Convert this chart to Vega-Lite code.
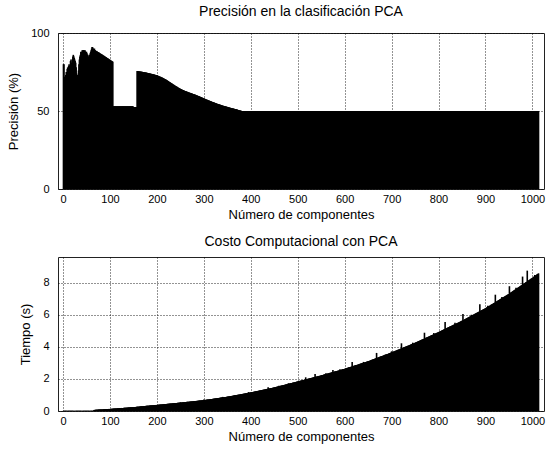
{
"$schema":"https://vega.github.io/schema/vega-lite/v6.json",
"usermeta":{"embedOptions":{"actions":false}},
"background":"white",
"padding":{"left":7,"top":4,"right":0,"bottom":2},
"spacing":12,
"data":{"values":[
{"n":1,"p":80,"t":0.01},{"n":2,"p":80,"t":0.01},{"n":3,"p":72,"t":0.01},{"n":4,"p":67,"t":0.01},{"n":5,"p":70,"t":0.01},{"n":6,"p":73,"t":0.01},{"n":7,"p":75,"t":0.01},{"n":8,"p":74,"t":0.01},{"n":9,"p":77,"t":0.01},{"n":10,"p":78,"t":0.01},
{"n":11,"p":76,"t":0.01},{"n":12,"p":79,"t":0.01},{"n":13,"p":80,"t":0.01},{"n":14,"p":79,"t":0.01},{"n":15,"p":78,"t":0.01},{"n":16,"p":82,"t":0.01},{"n":17,"p":83,"t":0.01},{"n":18,"p":81,"t":0.01},{"n":19,"p":80,"t":0.01},{"n":20,"p":83,"t":0.01},
{"n":21,"p":85,"t":0.01},{"n":22,"p":86,"t":0.01},{"n":23,"p":85,"t":0.01},{"n":24,"p":84,"t":0.01},{"n":25,"p":83,"t":0.01},{"n":26,"p":82,"t":0.01},{"n":27,"p":81,"t":0.01},{"n":28,"p":78,"t":0.01},{"n":29,"p":74,"t":0.01},{"n":30,"p":73,"t":0.01},
{"n":31,"p":72,"t":0.01},{"n":32,"p":73,"t":0.01},{"n":33,"p":76,"t":0.01},{"n":34,"p":80,"t":0.01},{"n":35,"p":83,"t":0.01},{"n":36,"p":85,"t":0.01},{"n":37,"p":86,"t":0.01},{"n":38,"p":88,"t":0.01},{"n":39,"p":87,"t":0.01},{"n":40,"p":88,"t":0.01},
{"n":41,"p":89,"t":0.01},{"n":42,"p":88,"t":0.01},{"n":43,"p":89,"t":0.01},{"n":44,"p":89,"t":0.01},{"n":45,"p":89,"t":0.01},{"n":46,"p":88,"t":0.01},{"n":47,"p":89,"t":0.01},{"n":48,"p":88,"t":0.01},{"n":49,"p":87,"t":0.01},{"n":50,"p":88,"t":0.01},
{"n":51,"p":87,"t":0.01},{"n":52,"p":86,"t":0.01},{"n":53,"p":86,"t":0.01},{"n":54,"p":85,"t":0.01},{"n":55,"p":84,"t":0.01},{"n":56,"p":85,"t":0.01},{"n":57,"p":86,"t":0.01},{"n":58,"p":87,"t":0.01},{"n":59,"p":88,"t":0.01},{"n":60,"p":89,"t":0.01},
{"n":61,"p":90,"t":0.01},{"n":62,"p":91,"t":0.01},{"n":63,"p":91,"t":0.01},{"n":64,"p":90,"t":0.01},{"n":65,"p":90,"t":0.01},{"n":66,"p":89,"t":0.07},{"n":67,"p":90,"t":0.07},{"n":68,"p":89,"t":0.07},{"n":69,"p":89,"t":0.08},{"n":70,"p":88.5,"t":0.08},
{"n":71,"p":88.3,"t":0.08},{"n":72,"p":88.5,"t":0.08},{"n":73,"p":88,"t":0.08},{"n":74,"p":87.8,"t":0.08},{"n":75,"p":87.6,"t":0.09},{"n":76,"p":87.7,"t":0.09},{"n":77,"p":87.3,"t":0.09},{"n":78,"p":87.1,"t":0.09},{"n":79,"p":86.9,"t":0.09},{"n":80,"p":86.8,"t":0.1},
{"n":81,"p":86.6,"t":0.1},{"n":82,"p":86.4,"t":0.1},{"n":83,"p":86.2,"t":0.1},{"n":84,"p":86,"t":0.1},{"n":85,"p":85.8,"t":0.1},{"n":86,"p":85.6,"t":0.11},{"n":87,"p":85.4,"t":0.11},{"n":88,"p":85.2,"t":0.11},{"n":89,"p":85,"t":0.11},{"n":90,"p":84.8,"t":0.11},
{"n":91,"p":84.6,"t":0.12},{"n":92,"p":84.4,"t":0.12},{"n":93,"p":84.2,"t":0.12},{"n":94,"p":84,"t":0.12},{"n":95,"p":83.8,"t":0.12},{"n":96,"p":83.6,"t":0.12},{"n":97,"p":83.4,"t":0.13},{"n":98,"p":83.2,"t":0.13},{"n":99,"p":83,"t":0.13},{"n":100,"p":82.8,"t":0.13},
{"n":101,"p":82.6,"t":0.13},{"n":102,"p":82.4,"t":0.13},{"n":103,"p":82.2,"t":0.14},{"n":104,"p":82,"t":0.14},{"n":105,"p":81.8,"t":0.14},{"n":106,"p":81.6,"t":0.14},{"n":107,"p":53,"t":0.15},{"n":108,"p":53,"t":0.15},{"n":109,"p":53,"t":0.15},{"n":110,"p":53,"t":0.15},
{"n":111,"p":53,"t":0.15},{"n":112,"p":53,"t":0.16},{"n":113,"p":53,"t":0.16},{"n":114,"p":53,"t":0.16},{"n":115,"p":53,"t":0.16},{"n":116,"p":53,"t":0.17},{"n":117,"p":53,"t":0.17},{"n":118,"p":53,"t":0.17},{"n":119,"p":53,"t":0.17},{"n":120,"p":53,"t":0.17},
{"n":121,"p":53,"t":0.18},{"n":122,"p":53,"t":0.18},{"n":123,"p":53,"t":0.18},{"n":124,"p":53,"t":0.18},{"n":125,"p":53,"t":0.19},{"n":126,"p":53,"t":0.19},{"n":127,"p":53,"t":0.19},{"n":128,"p":53,"t":0.19},{"n":129,"p":53,"t":0.19},{"n":130,"p":53,"t":0.2},
{"n":131,"p":53,"t":0.2},{"n":132,"p":53,"t":0.2},{"n":133,"p":53,"t":0.2},{"n":134,"p":53,"t":0.21},{"n":135,"p":53,"t":0.21},{"n":136,"p":53,"t":0.21},{"n":137,"p":53,"t":0.21},{"n":138,"p":53,"t":0.21},{"n":139,"p":53,"t":0.22},{"n":140,"p":53,"t":0.22},
{"n":141,"p":53,"t":0.22},{"n":142,"p":53,"t":0.22},{"n":143,"p":53,"t":0.23},{"n":144,"p":53,"t":0.23},{"n":145,"p":53,"t":0.23},{"n":146,"p":53,"t":0.23},{"n":147,"p":53,"t":0.23},{"n":148,"p":53,"t":0.24},{"n":149,"p":53,"t":0.24},{"n":150,"p":52.5,"t":0.24},
{"n":151,"p":52.5,"t":0.24},{"n":152,"p":52.5,"t":0.25},{"n":153,"p":52.5,"t":0.25},{"n":154,"p":52.5,"t":0.25},{"n":155,"p":52.5,"t":0.25},{"n":156,"p":52.5,"t":0.26},{"n":157,"p":52.5,"t":0.26},{"n":158,"p":75.6,"t":0.26},{"n":159,"p":75.6,"t":0.27},{"n":160,"p":75.5,"t":0.27},
{"n":161,"p":75.5,"t":0.27},{"n":162,"p":75.4,"t":0.27},{"n":163,"p":75.4,"t":0.28},{"n":164,"p":75.3,"t":0.28},{"n":165,"p":75.3,"t":0.28},{"n":166,"p":75.2,"t":0.29},{"n":167,"p":75.2,"t":0.29},{"n":168,"p":75.1,"t":0.29},{"n":169,"p":75.1,"t":0.29},{"n":170,"p":75,"t":0.3},
{"n":171,"p":74.9,"t":0.3},{"n":172,"p":74.9,"t":0.3},{"n":173,"p":74.8,"t":0.31},{"n":174,"p":74.8,"t":0.31},{"n":175,"p":74.7,"t":0.31},{"n":176,"p":74.7,"t":0.31},{"n":177,"p":74.6,"t":0.32},{"n":178,"p":74.5,"t":0.32},{"n":179,"p":74.5,"t":0.32},{"n":180,"p":74.4,"t":0.33},
{"n":181,"p":74.3,"t":0.33},{"n":182,"p":74.3,"t":0.33},{"n":183,"p":74.2,"t":0.33},{"n":184,"p":74.1,"t":0.34},{"n":185,"p":74.1,"t":0.34},{"n":186,"p":74,"t":0.34},{"n":187,"p":73.9,"t":0.35},{"n":188,"p":73.8,"t":0.35},{"n":189,"p":73.8,"t":0.35},{"n":190,"p":73.7,"t":0.35},
{"n":191,"p":73.6,"t":0.36},{"n":192,"p":73.5,"t":0.36},{"n":193,"p":73.5,"t":0.36},{"n":194,"p":73.4,"t":0.36},{"n":195,"p":73.3,"t":0.37},{"n":196,"p":73.2,"t":0.37},{"n":197,"p":73.1,"t":0.37},{"n":198,"p":73.1,"t":0.38},{"n":199,"p":73,"t":0.38},{"n":200,"p":72.9,"t":0.38},
{"n":201,"p":72.8,"t":0.38},{"n":202,"p":72.6,"t":0.39},{"n":203,"p":72.5,"t":0.39},{"n":204,"p":72.4,"t":0.39},{"n":205,"p":72.2,"t":0.39},{"n":206,"p":72.1,"t":0.4},{"n":207,"p":72,"t":0.4},{"n":208,"p":71.9,"t":0.4},{"n":209,"p":71.7,"t":0.41},{"n":210,"p":71.6,"t":0.41},
{"n":211,"p":71.4,"t":0.41},{"n":212,"p":71.3,"t":0.41},{"n":213,"p":71.1,"t":0.42},{"n":214,"p":71,"t":0.42},{"n":215,"p":70.8,"t":0.42},{"n":216,"p":70.6,"t":0.43},{"n":217,"p":70.5,"t":0.43},{"n":218,"p":70.3,"t":0.43},{"n":219,"p":70.2,"t":0.43},{"n":220,"p":70,"t":0.44},
{"n":221,"p":69.8,"t":0.44},{"n":222,"p":69.6,"t":0.44},{"n":223,"p":69.4,"t":0.45},{"n":224,"p":69.2,"t":0.45},{"n":225,"p":69,"t":0.45},{"n":226,"p":68.8,"t":0.45},{"n":227,"p":68.6,"t":0.46},{"n":228,"p":68.4,"t":0.46},{"n":229,"p":68.2,"t":0.46},{"n":230,"p":68,"t":0.47},
{"n":231,"p":67.8,"t":0.47},{"n":232,"p":67.6,"t":0.47},{"n":233,"p":67.4,"t":0.47},{"n":234,"p":67.2,"t":0.48},{"n":235,"p":67,"t":0.48},{"n":236,"p":66.8,"t":0.48},{"n":237,"p":66.6,"t":0.49},{"n":238,"p":66.4,"t":0.49},{"n":239,"p":66.2,"t":0.49},{"n":240,"p":66,"t":0.49},
{"n":241,"p":65.8,"t":0.5},{"n":242,"p":65.6,"t":0.5},{"n":243,"p":65.5,"t":0.5},{"n":244,"p":65.3,"t":0.51},{"n":245,"p":65.1,"t":0.51},{"n":246,"p":64.9,"t":0.51},{"n":247,"p":64.7,"t":0.51},{"n":248,"p":64.6,"t":0.52},{"n":249,"p":64.4,"t":0.52},{"n":250,"p":64.2,"t":0.55},
{"n":251,"p":64.1,"t":0.52},{"n":252,"p":63.9,"t":0.53},{"n":253,"p":63.8,"t":0.53},{"n":254,"p":63.6,"t":0.53},{"n":255,"p":63.5,"t":0.54},{"n":256,"p":63.4,"t":0.54},{"n":257,"p":63.2,"t":0.54},{"n":258,"p":63.1,"t":0.55},{"n":259,"p":62.9,"t":0.55},{"n":260,"p":62.8,"t":0.55},
{"n":261,"p":62.7,"t":0.56},{"n":262,"p":62.6,"t":0.56},{"n":263,"p":62.5,"t":0.56},{"n":264,"p":62.4,"t":0.57},{"n":265,"p":62.3,"t":0.57},{"n":266,"p":62.1,"t":0.57},{"n":267,"p":62,"t":0.57},{"n":268,"p":61.9,"t":0.58},{"n":269,"p":61.8,"t":0.58},{"n":270,"p":61.7,"t":0.58},
{"n":271,"p":61.6,"t":0.59},{"n":272,"p":61.5,"t":0.59},{"n":273,"p":61.4,"t":0.59},{"n":274,"p":61.3,"t":0.6},{"n":275,"p":61.2,"t":0.6},{"n":276,"p":61,"t":0.6},{"n":277,"p":60.9,"t":0.61},{"n":278,"p":60.8,"t":0.61},{"n":279,"p":60.7,"t":0.61},{"n":280,"p":60.6,"t":0.62},
{"n":281,"p":60.5,"t":0.62},{"n":282,"p":60.4,"t":0.62},{"n":283,"p":60.2,"t":0.63},{"n":284,"p":60.1,"t":0.63},{"n":285,"p":60,"t":0.63},{"n":286,"p":59.9,"t":0.63},{"n":287,"p":59.8,"t":0.64},{"n":288,"p":59.6,"t":0.64},{"n":289,"p":59.5,"t":0.64},{"n":290,"p":59.4,"t":0.65},
{"n":291,"p":59.3,"t":0.65},{"n":292,"p":59.1,"t":0.65},{"n":293,"p":59,"t":0.66},{"n":294,"p":58.9,"t":0.66},{"n":295,"p":58.7,"t":0.66},{"n":296,"p":58.6,"t":0.67},{"n":297,"p":58.5,"t":0.67},{"n":298,"p":58.4,"t":0.67},{"n":299,"p":58.2,"t":0.68},{"n":300,"p":58.1,"t":0.71},
{"n":301,"p":58,"t":0.68},{"n":302,"p":57.8,"t":0.69},{"n":303,"p":57.7,"t":0.69},{"n":304,"p":57.6,"t":0.69},{"n":305,"p":57.4,"t":0.7},{"n":306,"p":57.3,"t":0.7},{"n":307,"p":57.2,"t":0.71},{"n":308,"p":57.1,"t":0.71},{"n":309,"p":56.9,"t":0.72},{"n":310,"p":56.8,"t":0.72},
{"n":311,"p":56.7,"t":0.72},{"n":312,"p":56.6,"t":0.73},{"n":313,"p":56.4,"t":0.73},{"n":314,"p":56.3,"t":0.74},{"n":315,"p":56.2,"t":0.74},{"n":316,"p":56.1,"t":0.75},{"n":317,"p":56,"t":0.75},{"n":318,"p":55.8,"t":0.75},{"n":319,"p":55.7,"t":0.76},{"n":320,"p":55.6,"t":0.76},
{"n":321,"p":55.5,"t":0.77},{"n":322,"p":55.4,"t":0.77},{"n":323,"p":55.3,"t":0.78},{"n":324,"p":55.2,"t":0.78},{"n":325,"p":55,"t":0.78},{"n":326,"p":54.9,"t":0.79},{"n":327,"p":54.8,"t":0.79},{"n":328,"p":54.7,"t":0.8},{"n":329,"p":54.6,"t":0.8},{"n":330,"p":54.5,"t":0.81},
{"n":331,"p":54.4,"t":0.81},{"n":332,"p":54.3,"t":0.81},{"n":333,"p":54.2,"t":0.82},{"n":334,"p":54.1,"t":0.82},{"n":335,"p":54,"t":0.83},{"n":336,"p":53.9,"t":0.83},{"n":337,"p":53.8,"t":0.84},{"n":338,"p":53.7,"t":0.84},{"n":339,"p":53.6,"t":0.84},{"n":340,"p":53.5,"t":0.88},
{"n":341,"p":53.4,"t":0.85},{"n":342,"p":53.3,"t":0.86},{"n":343,"p":53.2,"t":0.86},{"n":344,"p":53.1,"t":0.87},{"n":345,"p":53.1,"t":0.87},{"n":346,"p":53,"t":0.87},{"n":347,"p":52.9,"t":0.88},{"n":348,"p":52.8,"t":0.88},{"n":349,"p":52.7,"t":0.89},{"n":350,"p":52.6,"t":0.89},
{"n":351,"p":52.5,"t":0.9},{"n":352,"p":52.4,"t":0.9},{"n":353,"p":52.4,"t":0.91},{"n":354,"p":52.3,"t":0.91},{"n":355,"p":52.2,"t":0.92},{"n":356,"p":52.1,"t":0.92},{"n":357,"p":52,"t":0.93},{"n":358,"p":52,"t":0.93},{"n":359,"p":51.9,"t":0.94},{"n":360,"p":51.8,"t":0.94},
{"n":361,"p":51.7,"t":0.95},{"n":362,"p":51.6,"t":0.95},{"n":363,"p":51.6,"t":0.96},{"n":364,"p":51.5,"t":0.96},{"n":365,"p":51.4,"t":0.97},{"n":366,"p":51.3,"t":0.98},{"n":367,"p":51.2,"t":0.98},{"n":368,"p":51.2,"t":0.99},{"n":369,"p":51.1,"t":0.99},{"n":370,"p":51,"t":1},
{"n":371,"p":50.9,"t":1},{"n":372,"p":50.8,"t":1.01},{"n":373,"p":50.7,"t":1.01},{"n":374,"p":50.6,"t":1.02},{"n":375,"p":50.5,"t":1.02},{"n":376,"p":50.4,"t":1.03},{"n":377,"p":50.4,"t":1.03},{"n":378,"p":50.3,"t":1.04},{"n":379,"p":50.2,"t":1.04},{"n":380,"p":50.1,"t":1.05},
{"n":381,"p":50,"t":1.06},{"n":382,"p":50,"t":1.06},{"n":383,"p":50,"t":1.07},{"n":384,"p":50,"t":1.07},{"n":385,"p":50,"t":1.08},{"n":386,"p":50,"t":1.08},{"n":387,"p":50,"t":1.09},{"n":388,"p":50,"t":1.09},{"n":389,"p":50,"t":1.1},{"n":390,"p":50,"t":1.1},
{"n":391,"p":50,"t":1.11},{"n":392,"p":50,"t":1.11},{"n":393,"p":50,"t":1.12},{"n":394,"p":50,"t":1.12},{"n":395,"p":50,"t":1.18},{"n":396,"p":50,"t":1.14},{"n":397,"p":50,"t":1.14},{"n":398,"p":50,"t":1.15},{"n":399,"p":50,"t":1.15},{"n":400,"p":50,"t":1.16},
{"n":401,"p":50,"t":1.17},{"n":402,"p":50,"t":1.17},{"n":403,"p":50,"t":1.18},{"n":404,"p":50,"t":1.18},{"n":405,"p":50,"t":1.19},{"n":406,"p":50,"t":1.2},{"n":407,"p":50,"t":1.2},{"n":408,"p":50,"t":1.21},{"n":409,"p":50,"t":1.22},{"n":410,"p":50,"t":1.22},
{"n":411,"p":50,"t":1.23},{"n":412,"p":50,"t":1.23},{"n":413,"p":50,"t":1.24},{"n":414,"p":50,"t":1.25},{"n":415,"p":50,"t":1.25},{"n":416,"p":50,"t":1.26},{"n":417,"p":50,"t":1.26},{"n":418,"p":50,"t":1.27},{"n":419,"p":50,"t":1.28},{"n":420,"p":50,"t":1.28},
{"n":421,"p":50,"t":1.29},{"n":422,"p":50,"t":1.3},{"n":423,"p":50,"t":1.3},{"n":424,"p":50,"t":1.31},{"n":425,"p":50,"t":1.31},{"n":426,"p":50,"t":1.32},{"n":427,"p":50,"t":1.33},{"n":428,"p":50,"t":1.33},{"n":429,"p":50,"t":1.34},{"n":430,"p":50,"t":1.34},
{"n":431,"p":50,"t":1.35},{"n":432,"p":50,"t":1.36},{"n":433,"p":50,"t":1.36},{"n":434,"p":50,"t":1.37},{"n":435,"p":50,"t":1.38},{"n":436,"p":50,"t":1.38},{"n":437,"p":50,"t":1.48},{"n":438,"p":50,"t":1.39},{"n":439,"p":50,"t":1.4},{"n":440,"p":50,"t":1.41},
{"n":441,"p":50,"t":1.41},{"n":442,"p":50,"t":1.42},{"n":443,"p":50,"t":1.43},{"n":444,"p":50,"t":1.43},{"n":445,"p":50,"t":1.44},{"n":446,"p":50,"t":1.44},{"n":447,"p":50,"t":1.45},{"n":448,"p":50,"t":1.46},{"n":449,"p":50,"t":1.46},{"n":450,"p":50,"t":1.47},
{"n":451,"p":50,"t":1.48},{"n":452,"p":50,"t":1.48},{"n":453,"p":50,"t":1.49},{"n":454,"p":50,"t":1.5},{"n":455,"p":50,"t":1.51},{"n":456,"p":50,"t":1.51},{"n":457,"p":50,"t":1.52},{"n":458,"p":50,"t":1.53},{"n":459,"p":50,"t":1.54},{"n":460,"p":50,"t":1.58},
{"n":461,"p":50,"t":1.55},{"n":462,"p":50,"t":1.56},{"n":463,"p":50,"t":1.57},{"n":464,"p":50,"t":1.57},{"n":465,"p":50,"t":1.58},{"n":466,"p":50,"t":1.59},{"n":467,"p":50,"t":1.59},{"n":468,"p":50,"t":1.6},{"n":469,"p":50,"t":1.61},{"n":470,"p":50,"t":1.62},
{"n":471,"p":50,"t":1.62},{"n":472,"p":50,"t":1.63},{"n":473,"p":50,"t":1.64},{"n":474,"p":50,"t":1.65},{"n":475,"p":50,"t":1.65},{"n":476,"p":50,"t":1.66},{"n":477,"p":50,"t":1.67},{"n":478,"p":50,"t":1.68},{"n":479,"p":50,"t":1.68},{"n":480,"p":50,"t":1.73},
{"n":481,"p":50,"t":1.7},{"n":482,"p":50,"t":1.71},{"n":483,"p":50,"t":1.71},{"n":484,"p":50,"t":1.72},{"n":485,"p":50,"t":1.73},{"n":486,"p":50,"t":1.74},{"n":487,"p":50,"t":1.74},{"n":488,"p":50,"t":1.75},{"n":489,"p":50,"t":1.76},{"n":490,"p":50,"t":1.77},
{"n":491,"p":50,"t":1.77},{"n":492,"p":50,"t":1.78},{"n":493,"p":50,"t":1.79},{"n":494,"p":50,"t":1.8},{"n":495,"p":50,"t":1.8},{"n":496,"p":50,"t":1.81},{"n":497,"p":50,"t":1.82},{"n":498,"p":50,"t":1.83},{"n":499,"p":50,"t":1.83},{"n":500,"p":50,"t":1.84},
{"n":501,"p":50,"t":1.85},{"n":502,"p":50,"t":1.86},{"n":503,"p":50,"t":1.86},{"n":504,"p":50,"t":1.87},{"n":505,"p":50,"t":1.88},{"n":506,"p":50,"t":1.89},{"n":507,"p":50,"t":1.89},{"n":508,"p":50,"t":1.9},{"n":509,"p":50,"t":1.91},{"n":510,"p":50,"t":1.92},
{"n":511,"p":50,"t":1.92},{"n":512,"p":50,"t":1.93},{"n":513,"p":50,"t":1.94},{"n":514,"p":50,"t":1.95},{"n":515,"p":50,"t":1.95},{"n":516,"p":50,"t":1.96},{"n":517,"p":50,"t":2.1},{"n":518,"p":50,"t":1.98},{"n":519,"p":50,"t":1.98},{"n":520,"p":50,"t":1.99},
{"n":521,"p":50,"t":2},{"n":522,"p":50,"t":2.01},{"n":523,"p":50,"t":2.01},{"n":524,"p":50,"t":2.02},{"n":525,"p":50,"t":2.03},{"n":526,"p":50,"t":2.04},{"n":527,"p":50,"t":2.04},{"n":528,"p":50,"t":2.05},{"n":529,"p":50,"t":2.06},{"n":530,"p":50,"t":2.07},
{"n":531,"p":50,"t":2.07},{"n":532,"p":50,"t":2.08},{"n":533,"p":50,"t":2.09},{"n":534,"p":50,"t":2.1},{"n":535,"p":50,"t":2.1},{"n":536,"p":50,"t":2.11},{"n":537,"p":50,"t":2.3},{"n":538,"p":50,"t":2.13},{"n":539,"p":50,"t":2.13},{"n":540,"p":50,"t":2.14},
{"n":541,"p":50,"t":2.15},{"n":542,"p":50,"t":2.16},{"n":543,"p":50,"t":2.16},{"n":544,"p":50,"t":2.17},{"n":545,"p":50,"t":2.18},{"n":546,"p":50,"t":2.19},{"n":547,"p":50,"t":2.19},{"n":548,"p":50,"t":2.2},{"n":549,"p":50,"t":2.21},{"n":550,"p":50,"t":2.22},
{"n":551,"p":50,"t":2.23},{"n":552,"p":50,"t":2.24},{"n":553,"p":50,"t":2.24},{"n":554,"p":50,"t":2.25},{"n":555,"p":50,"t":2.26},{"n":556,"p":50,"t":2.27},{"n":557,"p":50,"t":2.28},{"n":558,"p":50,"t":2.29},{"n":559,"p":50,"t":2.29},{"n":560,"p":50,"t":2.35},
{"n":561,"p":50,"t":2.31},{"n":562,"p":50,"t":2.32},{"n":563,"p":50,"t":2.33},{"n":564,"p":50,"t":2.33},{"n":565,"p":50,"t":2.34},{"n":566,"p":50,"t":2.35},{"n":567,"p":50,"t":2.36},{"n":568,"p":50,"t":2.37},{"n":569,"p":50,"t":2.38},{"n":570,"p":50,"t":2.38},
{"n":571,"p":50,"t":2.39},{"n":572,"p":50,"t":2.4},{"n":573,"p":50,"t":2.41},{"n":574,"p":50,"t":2.42},{"n":575,"p":50,"t":2.55},{"n":576,"p":50,"t":2.43},{"n":577,"p":50,"t":2.44},{"n":578,"p":50,"t":2.45},{"n":579,"p":50,"t":2.46},{"n":580,"p":50,"t":2.47},
{"n":581,"p":50,"t":2.47},{"n":582,"p":50,"t":2.48},{"n":583,"p":50,"t":2.49},{"n":584,"p":50,"t":2.5},{"n":585,"p":50,"t":2.51},{"n":586,"p":50,"t":2.51},{"n":587,"p":50,"t":2.52},{"n":588,"p":50,"t":2.53},{"n":589,"p":50,"t":2.54},{"n":590,"p":50,"t":2.6},
{"n":591,"p":50,"t":2.56},{"n":592,"p":50,"t":2.56},{"n":593,"p":50,"t":2.57},{"n":594,"p":50,"t":2.58},{"n":595,"p":50,"t":2.59},{"n":596,"p":50,"t":2.6},{"n":597,"p":50,"t":2.6},{"n":598,"p":50,"t":2.61},{"n":599,"p":50,"t":2.62},{"n":600,"p":50,"t":2.63},
{"n":601,"p":50,"t":2.64},{"n":602,"p":50,"t":2.65},{"n":603,"p":50,"t":2.66},{"n":604,"p":50,"t":2.67},{"n":605,"p":50,"t":2.68},{"n":606,"p":50,"t":2.69},{"n":607,"p":50,"t":2.7},{"n":608,"p":50,"t":2.71},{"n":609,"p":50,"t":2.72},{"n":610,"p":50,"t":2.72},
{"n":611,"p":50,"t":2.73},{"n":612,"p":50,"t":2.74},{"n":613,"p":50,"t":2.75},{"n":614,"p":50,"t":2.76},{"n":615,"p":50,"t":2.77},{"n":616,"p":50,"t":3.05},{"n":617,"p":50,"t":2.79},{"n":618,"p":50,"t":2.8},{"n":619,"p":50,"t":2.81},{"n":620,"p":50,"t":2.82},
{"n":621,"p":50,"t":2.83},{"n":622,"p":50,"t":2.84},{"n":623,"p":50,"t":2.85},{"n":624,"p":50,"t":2.86},{"n":625,"p":50,"t":2.87},{"n":626,"p":50,"t":2.87},{"n":627,"p":50,"t":2.88},{"n":628,"p":50,"t":2.89},{"n":629,"p":50,"t":2.9},{"n":630,"p":50,"t":2.91},
{"n":631,"p":50,"t":2.92},{"n":632,"p":50,"t":2.93},{"n":633,"p":50,"t":2.94},{"n":634,"p":50,"t":2.95},{"n":635,"p":50,"t":2.96},{"n":636,"p":50,"t":2.97},{"n":637,"p":50,"t":2.98},{"n":638,"p":50,"t":2.99},{"n":639,"p":50,"t":3},{"n":640,"p":50,"t":3.06},
{"n":641,"p":50,"t":3.02},{"n":642,"p":50,"t":3.02},{"n":643,"p":50,"t":3.03},{"n":644,"p":50,"t":3.04},{"n":645,"p":50,"t":3.05},{"n":646,"p":50,"t":3.06},{"n":647,"p":50,"t":3.07},{"n":648,"p":50,"t":3.08},{"n":649,"p":50,"t":3.09},{"n":650,"p":50,"t":3.1},
{"n":651,"p":50,"t":3.11},{"n":652,"p":50,"t":3.12},{"n":653,"p":50,"t":3.13},{"n":654,"p":50,"t":3.14},{"n":655,"p":50,"t":3.16},{"n":656,"p":50,"t":3.17},{"n":657,"p":50,"t":3.18},{"n":658,"p":50,"t":3.19},{"n":659,"p":50,"t":3.2},{"n":660,"p":50,"t":3.21},
{"n":661,"p":50,"t":3.22},{"n":662,"p":50,"t":3.23},{"n":663,"p":50,"t":3.24},{"n":664,"p":50,"t":3.25},{"n":665,"p":50,"t":3.27},{"n":666,"p":50,"t":3.28},{"n":667,"p":50,"t":3.29},{"n":668,"p":50,"t":3.62},{"n":669,"p":50,"t":3.31},{"n":670,"p":50,"t":3.32},
{"n":671,"p":50,"t":3.33},{"n":672,"p":50,"t":3.34},{"n":673,"p":50,"t":3.35},{"n":674,"p":50,"t":3.36},{"n":675,"p":50,"t":3.38},{"n":676,"p":50,"t":3.39},{"n":677,"p":50,"t":3.4},{"n":678,"p":50,"t":3.41},{"n":679,"p":50,"t":3.42},{"n":680,"p":50,"t":3.43},
{"n":681,"p":50,"t":3.44},{"n":682,"p":50,"t":3.45},{"n":683,"p":50,"t":3.46},{"n":684,"p":50,"t":3.47},{"n":685,"p":50,"t":3.49},{"n":686,"p":50,"t":3.5},{"n":687,"p":50,"t":3.51},{"n":688,"p":50,"t":3.52},{"n":689,"p":50,"t":3.53},{"n":690,"p":50,"t":3.54},
{"n":691,"p":50,"t":3.55},{"n":692,"p":50,"t":3.56},{"n":693,"p":50,"t":3.57},{"n":694,"p":50,"t":3.58},{"n":695,"p":50,"t":3.6},{"n":696,"p":50,"t":3.61},{"n":697,"p":50,"t":3.62},{"n":698,"p":50,"t":3.63},{"n":699,"p":50,"t":3.64},{"n":700,"p":50,"t":3.72},
{"n":701,"p":50,"t":3.66},{"n":702,"p":50,"t":3.67},{"n":703,"p":50,"t":3.69},{"n":704,"p":50,"t":3.7},{"n":705,"p":50,"t":3.71},{"n":706,"p":50,"t":3.72},{"n":707,"p":50,"t":3.73},{"n":708,"p":50,"t":3.75},{"n":709,"p":50,"t":3.76},{"n":710,"p":50,"t":3.77},
{"n":711,"p":50,"t":3.78},{"n":712,"p":50,"t":3.79},{"n":713,"p":50,"t":3.81},{"n":714,"p":50,"t":3.82},{"n":715,"p":50,"t":3.83},{"n":716,"p":50,"t":3.84},{"n":717,"p":50,"t":3.85},{"n":718,"p":50,"t":3.87},{"n":719,"p":50,"t":3.88},{"n":720,"p":50,"t":3.89},
{"n":721,"p":50,"t":4.22},{"n":722,"p":50,"t":3.91},{"n":723,"p":50,"t":3.93},{"n":724,"p":50,"t":3.94},{"n":725,"p":50,"t":3.95},{"n":726,"p":50,"t":3.96},{"n":727,"p":50,"t":3.97},{"n":728,"p":50,"t":3.99},{"n":729,"p":50,"t":4},{"n":730,"p":50,"t":4.01},
{"n":731,"p":50,"t":4.02},{"n":732,"p":50,"t":4.03},{"n":733,"p":50,"t":4.05},{"n":734,"p":50,"t":4.06},{"n":735,"p":50,"t":4.07},{"n":736,"p":50,"t":4.08},{"n":737,"p":50,"t":4.09},{"n":738,"p":50,"t":4.11},{"n":739,"p":50,"t":4.12},{"n":740,"p":50,"t":4.13},
{"n":741,"p":50,"t":4.14},{"n":742,"p":50,"t":4.15},{"n":743,"p":50,"t":4.17},{"n":744,"p":50,"t":4.18},{"n":745,"p":50,"t":4.26},{"n":746,"p":50,"t":4.2},{"n":747,"p":50,"t":4.21},{"n":748,"p":50,"t":4.23},{"n":749,"p":50,"t":4.24},{"n":750,"p":50,"t":4.25},
{"n":751,"p":50,"t":4.26},{"n":752,"p":50,"t":4.28},{"n":753,"p":50,"t":4.29},{"n":754,"p":50,"t":4.3},{"n":755,"p":50,"t":4.32},{"n":756,"p":50,"t":4.33},{"n":757,"p":50,"t":4.34},{"n":758,"p":50,"t":4.36},{"n":759,"p":50,"t":4.37},{"n":760,"p":50,"t":4.38},
{"n":761,"p":50,"t":4.4},{"n":762,"p":50,"t":4.41},{"n":763,"p":50,"t":4.42},{"n":764,"p":50,"t":4.44},{"n":765,"p":50,"t":4.45},{"n":766,"p":50,"t":4.46},{"n":767,"p":50,"t":4.48},{"n":768,"p":50,"t":4.49},{"n":769,"p":50,"t":4.5},{"n":770,"p":50,"t":4.88},
{"n":771,"p":50,"t":4.53},{"n":772,"p":50,"t":4.54},{"n":773,"p":50,"t":4.56},{"n":774,"p":50,"t":4.57},{"n":775,"p":50,"t":4.58},{"n":776,"p":50,"t":4.6},{"n":777,"p":50,"t":4.61},{"n":778,"p":50,"t":4.62},{"n":779,"p":50,"t":4.64},{"n":780,"p":50,"t":4.65},
{"n":781,"p":50,"t":4.66},{"n":782,"p":50,"t":4.68},{"n":783,"p":50,"t":4.69},{"n":784,"p":50,"t":4.7},{"n":785,"p":50,"t":4.72},{"n":786,"p":50,"t":4.73},{"n":787,"p":50,"t":4.74},{"n":788,"p":50,"t":4.76},{"n":789,"p":50,"t":4.77},{"n":790,"p":50,"t":4.86},
{"n":791,"p":50,"t":4.8},{"n":792,"p":50,"t":4.81},{"n":793,"p":50,"t":4.82},{"n":794,"p":50,"t":4.84},{"n":795,"p":50,"t":4.85},{"n":796,"p":50,"t":4.86},{"n":797,"p":50,"t":4.88},{"n":798,"p":50,"t":4.89},{"n":799,"p":50,"t":4.9},{"n":800,"p":50,"t":4.92},
{"n":801,"p":50,"t":4.93},{"n":802,"p":50,"t":4.95},{"n":803,"p":50,"t":4.96},{"n":804,"p":50,"t":4.98},{"n":805,"p":50,"t":4.99},{"n":806,"p":50,"t":5},{"n":807,"p":50,"t":5.02},{"n":808,"p":50,"t":5.03},{"n":809,"p":50,"t":5.05},{"n":810,"p":50,"t":5.06},
{"n":811,"p":50,"t":5.07},{"n":812,"p":50,"t":5.09},{"n":813,"p":50,"t":5.1},{"n":814,"p":50,"t":5.55},{"n":815,"p":50,"t":5.13},{"n":816,"p":50,"t":5.14},{"n":817,"p":50,"t":5.16},{"n":818,"p":50,"t":5.17},{"n":819,"p":50,"t":5.19},{"n":820,"p":50,"t":5.2},
{"n":821,"p":50,"t":5.21},{"n":822,"p":50,"t":5.23},{"n":823,"p":50,"t":5.24},{"n":824,"p":50,"t":5.26},{"n":825,"p":50,"t":5.27},{"n":826,"p":50,"t":5.28},{"n":827,"p":50,"t":5.3},{"n":828,"p":50,"t":5.31},{"n":829,"p":50,"t":5.33},{"n":830,"p":50,"t":5.34},
{"n":831,"p":50,"t":5.35},{"n":832,"p":50,"t":5.37},{"n":833,"p":50,"t":5.38},{"n":834,"p":50,"t":5.4},{"n":835,"p":50,"t":5.5},{"n":836,"p":50,"t":5.42},{"n":837,"p":50,"t":5.44},{"n":838,"p":50,"t":5.45},{"n":839,"p":50,"t":5.47},{"n":840,"p":50,"t":5.48},
{"n":841,"p":50,"t":5.49},{"n":842,"p":50,"t":5.51},{"n":843,"p":50,"t":5.52},{"n":844,"p":50,"t":5.54},{"n":845,"p":50,"t":5.55},{"n":846,"p":50,"t":5.56},{"n":847,"p":50,"t":5.58},{"n":848,"p":50,"t":5.59},{"n":849,"p":50,"t":5.61},{"n":850,"p":50,"t":5.62},
{"n":851,"p":50,"t":5.64},{"n":852,"p":50,"t":6.05},{"n":853,"p":50,"t":5.67},{"n":854,"p":50,"t":5.68},{"n":855,"p":50,"t":5.7},{"n":856,"p":50,"t":5.72},{"n":857,"p":50,"t":5.73},{"n":858,"p":50,"t":5.75},{"n":859,"p":50,"t":5.76},{"n":860,"p":50,"t":5.78},
{"n":861,"p":50,"t":5.79},{"n":862,"p":50,"t":5.81},{"n":863,"p":50,"t":5.83},{"n":864,"p":50,"t":5.84},{"n":865,"p":50,"t":5.86},{"n":866,"p":50,"t":5.87},{"n":867,"p":50,"t":5.89},{"n":868,"p":50,"t":5.9},{"n":869,"p":50,"t":5.92},{"n":870,"p":50,"t":6},
{"n":871,"p":50,"t":5.95},{"n":872,"p":50,"t":5.97},{"n":873,"p":50,"t":5.98},{"n":874,"p":50,"t":6},{"n":875,"p":50,"t":6.01},{"n":876,"p":50,"t":6.03},{"n":877,"p":50,"t":6.04},{"n":878,"p":50,"t":6.06},{"n":879,"p":50,"t":6.08},{"n":880,"p":50,"t":6.09},
{"n":881,"p":50,"t":6.11},{"n":882,"p":50,"t":6.12},{"n":883,"p":50,"t":6.14},{"n":884,"p":50,"t":6.15},{"n":885,"p":50,"t":6.17},{"n":886,"p":50,"t":6.18},{"n":887,"p":50,"t":6.2},{"n":888,"p":50,"t":6.65},{"n":889,"p":50,"t":6.23},{"n":890,"p":50,"t":6.25},
{"n":891,"p":50,"t":6.26},{"n":892,"p":50,"t":6.28},{"n":893,"p":50,"t":6.29},{"n":894,"p":50,"t":6.31},{"n":895,"p":50,"t":6.33},{"n":896,"p":50,"t":6.34},{"n":897,"p":50,"t":6.36},{"n":898,"p":50,"t":6.37},{"n":899,"p":50,"t":6.39},{"n":900,"p":50,"t":6.4},
{"n":901,"p":50,"t":6.42},{"n":902,"p":50,"t":6.44},{"n":903,"p":50,"t":6.46},{"n":904,"p":50,"t":6.47},{"n":905,"p":50,"t":6.56},{"n":906,"p":50,"t":6.51},{"n":907,"p":50,"t":6.53},{"n":908,"p":50,"t":6.55},{"n":909,"p":50,"t":6.56},{"n":910,"p":50,"t":6.58},
{"n":911,"p":50,"t":6.6},{"n":912,"p":50,"t":6.62},{"n":913,"p":50,"t":6.64},{"n":914,"p":50,"t":6.65},{"n":915,"p":50,"t":6.67},{"n":916,"p":50,"t":6.69},{"n":917,"p":50,"t":6.71},{"n":918,"p":50,"t":6.73},{"n":919,"p":50,"t":6.74},{"n":920,"p":50,"t":6.76},
{"n":921,"p":50,"t":7.25},{"n":922,"p":50,"t":6.8},{"n":923,"p":50,"t":6.82},{"n":924,"p":50,"t":6.83},{"n":925,"p":50,"t":6.85},{"n":926,"p":50,"t":6.87},{"n":927,"p":50,"t":6.89},{"n":928,"p":50,"t":6.91},{"n":929,"p":50,"t":6.92},{"n":930,"p":50,"t":6.94},
{"n":931,"p":50,"t":6.96},{"n":932,"p":50,"t":6.98},{"n":933,"p":50,"t":7},{"n":934,"p":50,"t":7.01},{"n":935,"p":50,"t":7.1},{"n":936,"p":50,"t":7.05},{"n":937,"p":50,"t":7.07},{"n":938,"p":50,"t":7.09},{"n":939,"p":50,"t":7.1},{"n":940,"p":50,"t":7.12},
{"n":941,"p":50,"t":7.14},{"n":942,"p":50,"t":7.16},{"n":943,"p":50,"t":7.18},{"n":944,"p":50,"t":7.19},{"n":945,"p":50,"t":7.21},{"n":946,"p":50,"t":7.23},{"n":947,"p":50,"t":7.25},{"n":948,"p":50,"t":7.27},{"n":949,"p":50,"t":7.28},{"n":950,"p":50,"t":7.3},
{"n":951,"p":50,"t":7.78},{"n":952,"p":50,"t":7.34},{"n":953,"p":50,"t":7.36},{"n":954,"p":50,"t":7.38},{"n":955,"p":50,"t":7.4},{"n":956,"p":50,"t":7.42},{"n":957,"p":50,"t":7.44},{"n":958,"p":50,"t":7.46},{"n":959,"p":50,"t":7.48},{"n":960,"p":50,"t":7.5},
{"n":961,"p":50,"t":7.52},{"n":962,"p":50,"t":7.54},{"n":963,"p":50,"t":7.56},{"n":964,"p":50,"t":7.58},{"n":965,"p":50,"t":7.68},{"n":966,"p":50,"t":7.62},{"n":967,"p":50,"t":7.64},{"n":968,"p":50,"t":7.66},{"n":969,"p":50,"t":7.68},{"n":970,"p":50,"t":7.7},
{"n":971,"p":50,"t":7.72},{"n":972,"p":50,"t":7.74},{"n":973,"p":50,"t":7.76},{"n":974,"p":50,"t":7.78},{"n":975,"p":50,"t":7.8},{"n":976,"p":50,"t":7.82},{"n":977,"p":50,"t":7.84},{"n":978,"p":50,"t":7.86},{"n":979,"p":50,"t":8.38},{"n":980,"p":50,"t":7.9},
{"n":981,"p":50,"t":7.92},{"n":982,"p":50,"t":7.94},{"n":983,"p":50,"t":7.96},{"n":984,"p":50,"t":7.98},{"n":985,"p":50,"t":8},{"n":986,"p":50,"t":8.02},{"n":987,"p":50,"t":8.04},{"n":988,"p":50,"t":8.06},{"n":989,"p":50,"t":8.75},{"n":990,"p":50,"t":8.1},
{"n":991,"p":50,"t":8.12},{"n":992,"p":50,"t":8.14},{"n":993,"p":50,"t":8.16},{"n":994,"p":50,"t":8.18},{"n":995,"p":50,"t":8.2},{"n":996,"p":50,"t":8.22},{"n":997,"p":50,"t":8.24},{"n":998,"p":50,"t":8.26},{"n":999,"p":50,"t":8.28},{"n":1000,"p":50,"t":8.3},
{"n":1001,"p":50,"t":8.32},{"n":1002,"p":50,"t":8.34},{"n":1003,"p":50,"t":8.37},{"n":1004,"p":50,"t":8.39},{"n":1005,"p":50,"t":8.48},{"n":1006,"p":50,"t":8.43},{"n":1007,"p":50,"t":8.45},{"n":1008,"p":50,"t":8.47},{"n":1009,"p":50,"t":8.49},{"n":1010,"p":50,"t":8.52},
{"n":1011,"p":50,"t":8.54},{"n":1012,"p":50,"t":8.56},{"n":1013,"p":50,"t":8.58}
]},
"vconcat":[
{"width":486,"height":156,
 "title":{"text":"Precisión en la clasificación PCA","frame":"group"},
 "mark":{"type":"bar","orient":"vertical","width":1.6,"color":"#000"},
 "encoding":{
  "x":{"field":"n","type":"quantitative","scale":{"domain":[0,1014],"nice":false,"zero":false},
       "axis":{"values":[0,100,200,300,400,500,600,700,800,900,1000],"format":"d","title":"Número de componentes"}},
  "y":{"field":"p","type":"quantitative","scale":{"domain":[0,100],"nice":false},
       "axis":{"values":[0,50,100],"title":"Precisión (%)"}}
 }},
{"width":486,"height":154,
 "title":{"text":"Costo Computacional con PCA","frame":"group"},
 "mark":{"type":"bar","orient":"vertical","width":1.6,"color":"#000"},
 "encoding":{
  "x":{"field":"n","type":"quantitative","scale":{"domain":[0,1014],"nice":false,"zero":false},
       "axis":{"values":[0,100,200,300,400,500,600,700,800,900,1000],"format":"d","title":"Número de componentes"}},
  "y":{"field":"t","type":"quantitative","scale":{"domain":[0,9.6],"nice":false},
       "axis":{"values":[0,2,4,6,8],"title":"Tiempo (s)"}}
 }}
],
"config":{
 "view":{"stroke":"#222","strokeWidth":1},
 "title":{"font":"Liberation Sans","fontSize":14,"fontWeight":"normal","color":"#000","offset":8,"anchor":"middle"},
 "axis":{"labelFont":"Liberation Sans","titleFont":"Liberation Sans","labelFontSize":11,"titleFontSize":13,"titleFontWeight":"normal","labelColor":"#000","titleColor":"#000","ticks":false,"tickSize":0,"domain":false,"grid":true,"gridColor":"#000","gridDash":[1,2],"gridOpacity":0.85,"labelFlush":false,"labelOverlap":false},
 "axisX":{"labelPadding":4,"titlePadding":4},
 "axisY":{"labelPadding":9,"titlePadding":10}
}
}
